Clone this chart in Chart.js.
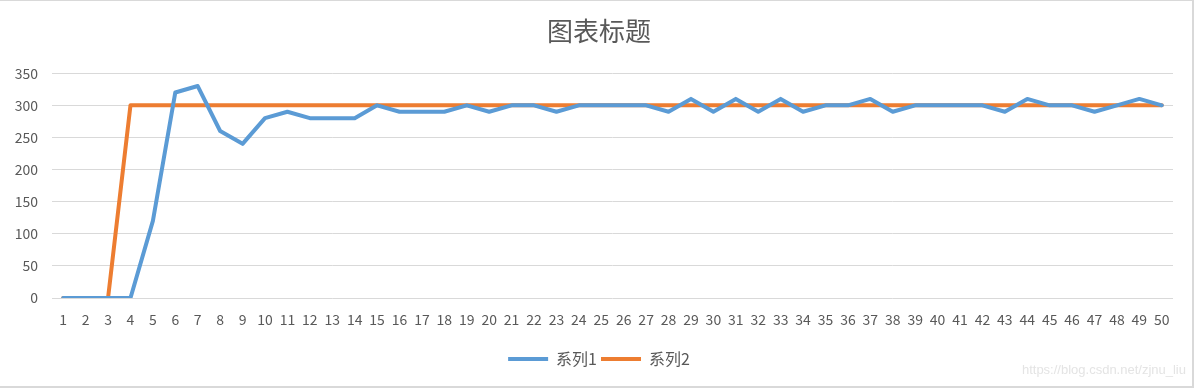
<!DOCTYPE html>
<html>
<head>
<meta charset="utf-8">
<script src="https://cdn.jsdelivr.net/npm/chart.js@4"></script>
<style>
    html, body { margin: 0; padding: 0; background: #ffffff; }
    #wrap { position: relative; width: 1198px; height: 389px; }
    #frame {
        position: absolute; left: 0; top: 0; width: 1192px; height: 385px;
        border-top: 1px solid #d9d9d9; border-right: 2px solid #d9d9d9; border-bottom: 2px solid #d9d9d9;
        pointer-events: none;
    }
    #mark {
        position: absolute; right: 12px; top: 362px; white-space: nowrap;
        font-family: "Liberation Sans", Arial, sans-serif; font-size: 13px; color: #e4e4e4;
    }
</style>
</head>
<body>
<div id="wrap">
    <canvas id="chart"></canvas>
    <div id="frame"></div>
    <div id="mark">https://blog.csdn.net/zjnu_liu</div>
</div>
<script>
    // Categories (1..50) and series values
    const categories = ["1","2","3","4","5","6","7","8","9","10","11","12","13","14","15","16","17","18","19","20",
        "21","22","23","24","25","26","27","28","29","30","31","32","33","34","35","36","37","38","39","40",
        "41","42","43","44","45","46","47","48","49","50"];

    const series1 = [0, 0, 0, 0, 120, 320, 330, 260, 240, 280,
        290, 280, 280, 280, 300, 290, 290, 290, 300, 290,
        300, 300, 290, 300, 300, 300, 300, 290, 310, 290,
        310, 290, 310, 290, 300, 300, 310, 290, 300, 300,
        300, 300, 290, 310, 300, 300, 290, 300, 310, 300];

    const series2 = [0, 0, 0, 300, 300, 300, 300, 300, 300, 300,
        300, 300, 300, 300, 300, 300, 300, 300, 300, 300,
        300, 300, 300, 300, 300, 300, 300, 300, 300, 300,
        300, 300, 300, 300, 300, 300, 300, 300, 300, 300,
        300, 300, 300, 300, 300, 300, 300, 300, 300, 300];

    const yTicks = [0, 50, 100, 150, 200, 250, 300, 350];

    const textColor = "#595959";
    const gridColor = "#d9d9d9";
    const fontFamily = "'Noto Sans CJK SC', 'Liberation Sans', sans-serif";

    const ctx = document.getElementById("chart").getContext("2d");

    new Chart(ctx, {
        type: "line",
        data: {
            labels: categories,
            datasets: [
                {
                    label: "系列1",
                    data: series1,
                    borderColor: "#5b9bd5",
                    backgroundColor: "#5b9bd5",
                    borderWidth: 4,
                    pointRadius: 0,
                    tension: 0,
                    fill: false,
                    borderCapStyle: "round",
                    borderJoinStyle: "round"
                },
                {
                    label: "系列2",
                    data: series2,
                    borderColor: "#ed7d31",
                    backgroundColor: "#ed7d31",
                    borderWidth: 4,
                    pointRadius: 0,
                    tension: 0,
                    fill: false,
                    borderCapStyle: "round",
                    borderJoinStyle: "round"
                }
            ]
        },
        options: {
            responsive: true,
            maintainAspectRatio: false,
            animation: false,
            layout: { padding: { left: 0, right: 0, top: 0, bottom: 12 } },
            plugins: {
                title: {
                    display: true,
                    text: "图表标题",
                    color: textColor,
                    font: { family: fontFamily, size: 26, weight: "normal" },
                    padding: { top: 16, bottom: 26 }
                },
                legend: {
                    display: true,
                    position: "bottom",
                    labels: {
                        color: textColor,
                        font: { family: fontFamily, size: 16 },
                        boxWidth: 40,
                        boxHeight: 4,
                        padding: 4,
                        generateLabels: function (chart) {
                            const items = Chart.defaults.plugins.legend.labels.generateLabels(chart);
                            items.forEach(item => { item.lineWidth = 0; });
                            return items;
                        }
                    }
                },
                tooltip: { enabled: false }
            },
            scales: {
                x: {
                    offset: true,
                    grid: { display: false, drawTicks: false },
                    border: { display: false },
                    afterFit: function (scale) {
                        scale.height = 49;
                    },
                    ticks: {
                        color: textColor,
                        font: { family: fontFamily, size: 14 },
                        autoSkip: false,
                        maxRotation: 0,
                        padding: 13
                    }
                },
                y: {
                    min: 0,
                    max: 350,
                    afterBuildTicks: function (scale) {
                        scale.ticks = yTicks.map(v => ({ value: v }));
                    },
                    afterFit: function (scale) {
                        scale.width = 52;
                    },
                    grid: { color: gridColor, lineWidth: 1, drawTicks: false },
                    border: { display: false },
                    ticks: {
                        color: textColor,
                        font: { family: fontFamily, size: 14 },
                        padding: 14
                    }
                },
                // empty right-hand space so title and legend stay centred on the whole chart
                yRight: {
                    position: "right",
                    display: true,
                    grid: { display: false, drawTicks: false },
                    border: { display: false },
                    ticks: { display: false },
                    afterFit: function (scale) {
                        scale.width = 25;
                    }
                }
            }
        }
    });
</script>
</body>
</html>
